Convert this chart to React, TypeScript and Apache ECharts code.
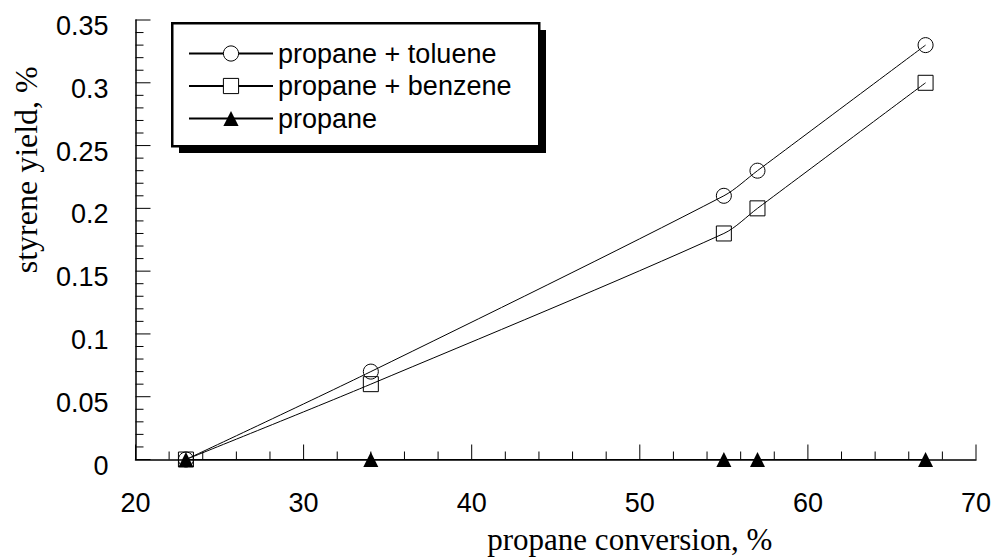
import React, { useEffect, useRef } from "react";
import * as echarts from "echarts";

const conversion = [23, 34, 55, 57, 67];
const tolueneYield = [0, 0.07, 0.21, 0.23, 0.33];
const benzeneYield = [0, 0.06, 0.18, 0.2, 0.3];
const propaneYield = [0, 0, 0, 0, 0];
const seriesNames = ["propane + toluene", "propane + benzene", "propane"];

const X_MIN = 20;
const X_MAX = 70;
const X_STEP = 10;
const X_MINOR = 2;
const Y_MIN = 0;
const Y_MAX = 0.35;
const Y_STEP = 0.05;
const Y_MINOR = 0.01;

const SANS = "'Liberation Sans', Arial, sans-serif";
const SERIF = "'Liberation Serif', 'Times New Roman', serif";

function pairs(xs: number[], ys: number[]) {
  return xs.map((x, i) => [x, ys[i]]);
}

function tickValues(min: number, max: number, step: number) {
  const n = Math.round((max - min) / step);
  const out: number[] = [];
  for (let i = 0; i <= n; i++) out.push(+(min + i * step).toFixed(6));
  return out;
}

function isMajor(v: number, min: number, step: number) {
  const k = (v - min) / step;
  return Math.abs(k - Math.round(k)) < 1e-6;
}

function axisParts() {
  return {
    axisLine: { show: true, onZero: false, lineStyle: { color: "#000", width: 1.5 } },
    axisTick: { show: false },
    minorTick: { show: false },
    splitLine: { show: false },
    minorSplitLine: { show: false },
  };
}

export default function App() {
  const ref = useRef<HTMLDivElement>(null);
  useEffect(() => {
    if (!ref.current) return;
    const chart = echarts.init(ref.current, undefined, { renderer: "svg" });
    const xTicks = tickValues(X_MIN, X_MAX, X_MINOR);
    const yTicks = tickValues(Y_MIN, Y_MAX, Y_MINOR);
    chart.setOption({
      animation: false,
      backgroundColor: "#fff",
      grid: { left: 135.5, right: 18, top: 20, bottom: 99.5, containLabel: false, outerBoundsMode: "none" },
      xAxis: {
        type: "value",
        min: X_MIN,
        max: X_MAX,
        interval: X_STEP,
        ...axisParts(),
        axisLabel: { color: "#000", fontFamily: SANS, fontSize: 27, margin: 30 },
        name: "propane conversion, %",
        nameLocation: "middle",
        nameGap: 67,
        nameTextStyle: {
          color: "#000",
          fontFamily: SERIF,
          fontSize: 31,
          lineHeight: 26,
          padding: [0, 0, 0, 148],
        },
      },
      yAxis: {
        type: "value",
        min: Y_MIN,
        max: Y_MAX,
        interval: Y_STEP,
        ...axisParts(),
        axisLabel: {
          color: "#000",
          fontFamily: SANS,
          fontSize: 27,
          margin: 27,
          verticalAlign: "top",
          lineHeight: 12,
        },
        name: "styrene yield, %",
        nameLocation: "middle",
        nameGap: 94,
        nameTextStyle: { color: "#000", fontFamily: SERIF, fontSize: 32, padding: [0, 0, 0, 140] },
      },
      legend: {
        show: true,
        orient: "vertical",
        left: 188,
        top: 40,
        padding: 0,
        itemWidth: 84,
        itemHeight: 19,
        itemGap: 5.5,
        textStyle: { color: "#000", fontFamily: SANS, fontSize: 27 },
        data: [
          { name: seriesNames[0], itemStyle: { color: "#fff", borderColor: "#000", borderWidth: 1 } },
          { name: seriesNames[1], itemStyle: { color: "#fff", borderColor: "#000", borderWidth: 1 } },
          { name: seriesNames[2] },
        ],
        z: 10,
      },
      graphic: [
        { type: "rect", left: 179, top: 30, shape: { width: 367, height: 123 }, style: { fill: "#000" }, z: 5 },
        {
          type: "rect",
          left: 171,
          top: 22,
          shape: { width: 367, height: 123 },
          style: { fill: "#fff", stroke: "#000", lineWidth: 2.5 },
          z: 6,
        },
      ],
      series: [
        {
          name: "xTicks",
          type: "custom",
          clip: false,
          silent: true,
          data: xTicks.map((v) => [v, Y_MIN]),
          renderItem: (params: any, api: any) => {
            const v = api.value(0);
            const p = api.coord([v, Y_MIN]);
            const len = isMajor(v, X_MIN, X_STEP) ? 15 : 8;
            return {
              type: "line",
              shape: { x1: p[0], y1: p[1], x2: p[0], y2: p[1] - len },
              style: { stroke: "#000", lineWidth: 1 },
            };
          },
          z: 1,
        },
        {
          name: "yTicks",
          type: "custom",
          clip: false,
          silent: true,
          data: yTicks.map((v) => [X_MIN, v]),
          renderItem: (params: any, api: any) => {
            const v = api.value(1);
            const p = api.coord([X_MIN, v]);
            const len = isMajor(v, Y_MIN, Y_STEP) ? 15 : 8;
            return {
              type: "line",
              shape: { x1: p[0], y1: p[1], x2: p[0] + len, y2: p[1] },
              style: { stroke: "#000", lineWidth: 1 },
            };
          },
          z: 1,
        },
        {
          name: seriesNames[0],
          type: "line",
          data: pairs(conversion, tolueneYield),
          smooth: 0.3,
          symbol: "circle",
          symbolSize: 15,
          lineStyle: { color: "#000", width: 1 },
          itemStyle: { color: "rgba(0,0,0,0)", borderColor: "#000", borderWidth: 1 },
          z: 2,
        },
        {
          name: seriesNames[1],
          type: "line",
          data: pairs(conversion, benzeneYield),
          smooth: 0.3,
          symbol: "rect",
          symbolSize: 15,
          lineStyle: { color: "#000", width: 1 },
          itemStyle: { color: "rgba(0,0,0,0)", borderColor: "#000", borderWidth: 1 },
          z: 2,
        },
        {
          name: seriesNames[2],
          type: "line",
          data: pairs(conversion, propaneYield),
          symbol: "triangle",
          symbolSize: 15,
          lineStyle: { color: "#000", width: 1 },
          itemStyle: { color: "#000", borderColor: "#000", borderWidth: 0 },
          z: 3,
        },
      ],
    });
    return () => chart.dispose();
  }, []);
  return <div ref={ref} style={{ width: 994, height: 559, position: "absolute", left: 0, top: 0 }} />;
}
